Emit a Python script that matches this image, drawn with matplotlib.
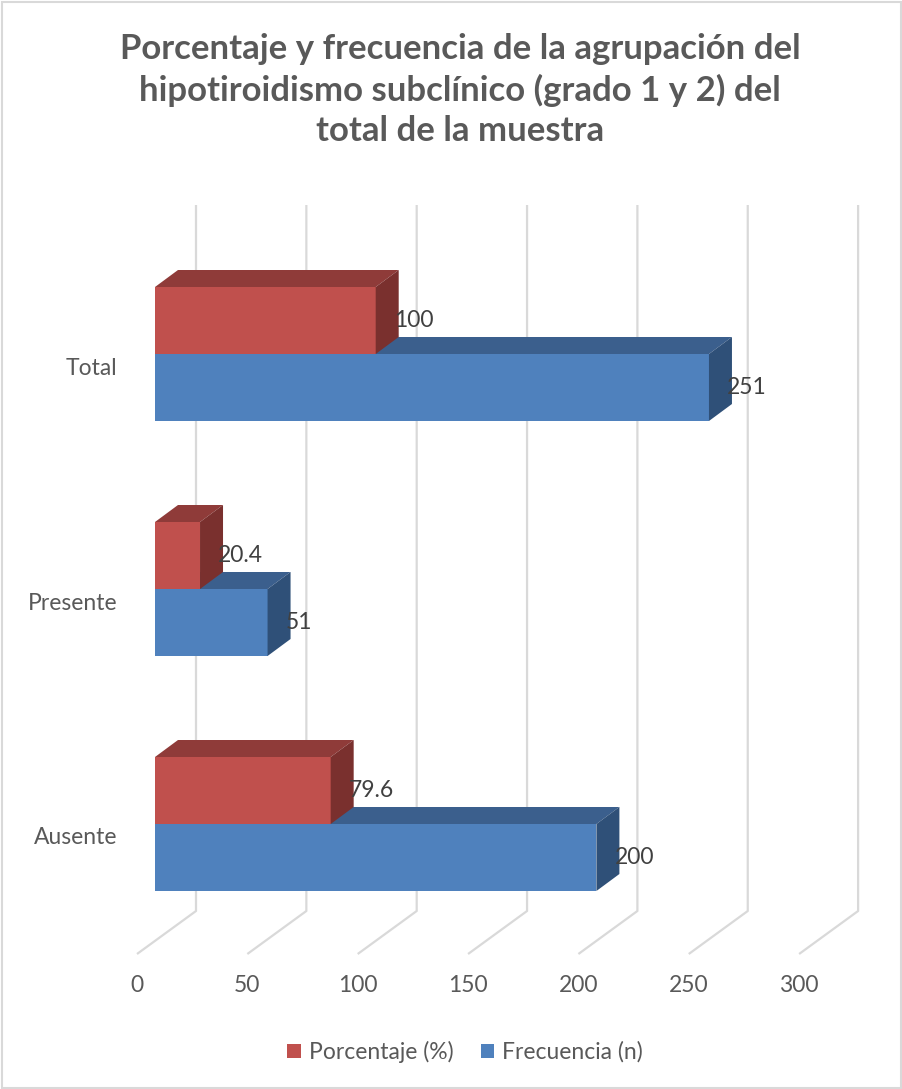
import matplotlib
matplotlib.use('Agg')
import matplotlib.pyplot as plt
from matplotlib.patches import Polygon, Patch, Rectangle

plt.rcParams['font.family'] = ['Lato', 'DejaVu Sans']

# data
categories = ['Ausente', 'Presente', 'Total']
porcentaje = [79.6, 20.4, 100]
frecuencia = [200, 51, 251]
ticks = [0, 50, 100, 150, 200, 250, 300]
title = 'Porcentaje y frecuencia de la agrupación del\nhipotiroidismo subclínico (grado 1 y 2) del\ntotal de la muestra'

# colours
red_front, red_top, red_side = '#C0504D', '#8F3B39', '#7A302E'
blue_front, blue_top, blue_side = '#4F81BD', '#3B5F8D', '#2F5078'
grid_col = '#D9D9D9'

W, H = 902, 1089
fig = plt.figure(figsize=(W / 100, H / 100), dpi=100)
ax = fig.add_axes([0, 0, 1, 1])
ax.axis('off')

PXX = 2.207   # pixels per value unit
PXY = 235.0   # pixels per category step
X0 = 155      # pixel of value 0 on the bar front plane
Y0 = 824      # pixel of first category centre
FS = 16.5


def ux(p):
    return p / PXX


def uy(p):
    return p / PXY


ax.set_xlim(-X0 / PXX, (W - X0) / PXX)
ax.set_ylim((Y0 - H) / PXY, Y0 / PXY)

bar_h = uy(67)
dxb, dyb = ux(23), uy(17)

# gridlines: floor diagonal + back wall vertical
y_floor_front = uy(Y0 - 954)
y_floor_back = uy(Y0 - 911)
y_wall_top = uy(Y0 - 205)
for t in ticks:
    xf, xb = t - ux(18), t + ux(41)
    ax.plot([xf, xb, xb], [y_floor_front, y_floor_back, y_wall_top],
            color=grid_col, lw=1.6, zorder=1, solid_capstyle='butt')
    ax.text(xf, uy(Y0 - 985), str(t), ha='center', va='center',
            fontsize=FS, color='#595959')


def bar3d(yb, v, front, top, side, z):
    yt = yb + bar_h
    ax.barh(yb, v, height=bar_h, left=0, align='edge', color=front,
            edgecolor='none', zorder=z)
    ax.add_patch(Polygon([(0, yt), (v, yt), (v + dxb, yt + dyb), (dxb, yt + dyb)],
                         closed=True, facecolor=top, edgecolor='none', zorder=z))
    ax.add_patch(Polygon([(v, yb), (v, yt), (v + dxb, yt + dyb), (v + dxb, yb + dyb)],
                         closed=True, facecolor=side, edgecolor='none', zorder=z))


for i, cat in enumerate(categories):
    # frecuencia (lower bar) then porcentaje (upper bar)
    bar3d(i - bar_h, frecuencia[i], blue_front, blue_top, blue_side, 2 + i * 0.1)
    bar3d(i, porcentaje[i], red_front, red_top, red_side, 3 + i * 0.1)
    ax.text(frecuencia[i] + ux(18), i - bar_h / 2, f'{frecuencia[i]:g}',
            ha='left', va='center', fontsize=FS, color='#404040', zorder=6)
    ax.text(porcentaje[i] + ux(18), i + bar_h / 2, f'{porcentaje[i]:g}',
            ha='left', va='center', fontsize=FS, color='#404040', zorder=6)
    ax.text(-ux(38), i - uy(14), cat, ha='right', va='center',
            fontsize=FS, color='#595959')

fig.text(460 / W, 1 - 90 / H, title, ha='center', va='center', fontsize=25,
         fontweight='bold', color='#595959', linespacing=1.3)

handles = [Patch(facecolor=red_front, label='Porcentaje (%)'),
           Patch(facecolor=blue_front, label='Frecuencia (n)')]
fig.legend(handles=handles, loc='center', ncol=2, frameon=False,
           bbox_to_anchor=(465 / W, 1 - 1052 / H), fontsize=FS,
           handlelength=0.6, handleheight=0.6, handletextpad=0.35,
           columnspacing=1.2, labelcolor='#595959')

fig.patches.append(Rectangle((1.5 / W, 1.5 / H), 1 - 3 / W, 1 - 3 / H,
                             transform=fig.transFigure, fill=False,
                             edgecolor=grid_col, lw=1.5))

fig.savefig('out.png', dpi=100)
